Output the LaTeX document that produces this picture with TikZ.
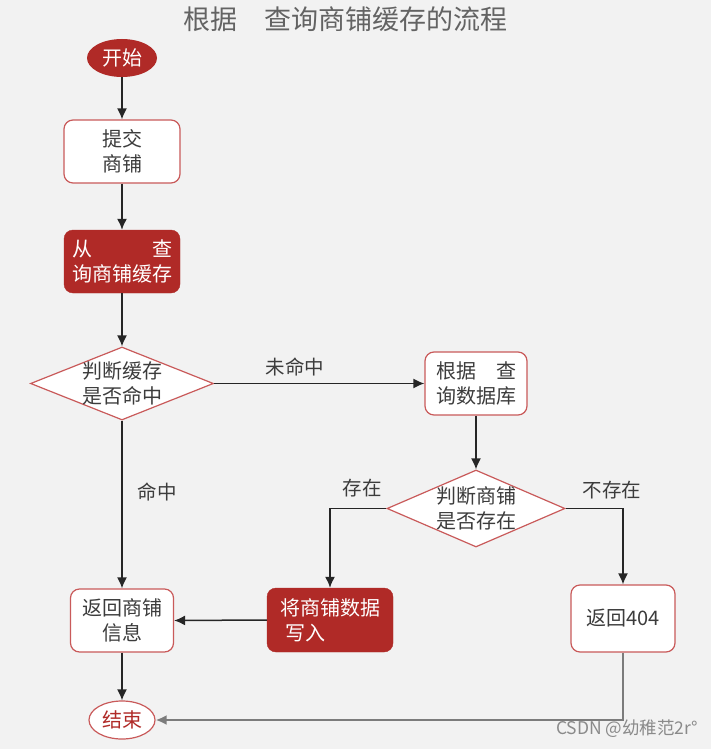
\documentclass[tikz,border=0pt]{standalone}
\usepackage{fontspec}
\setmainfont{Noto Sans CJK SC}
\usetikzlibrary{shapes.geometric,arrows.meta}

\definecolor{bg}{HTML}{F2F2F2}
\definecolor{darkred}{HTML}{B02A27}
\definecolor{boxline}{HTML}{C95A5A}
\definecolor{txt}{HTML}{3C3C3C}
\definecolor{flow}{HTML}{262626}
\definecolor{mark}{HTML}{8A8A8A}

\tikzset{
  boxfont/.style={font=\fontsize{20}{25}\selectfont},
  redbox/.style={rectangle,rounded corners=9pt,fill=darkred,draw=darkred,
    text=white,inner sep=0pt,align=center,boxfont},
  whitebox/.style={rectangle,rounded corners=9pt,fill=white,draw=boxline,
    line width=1.2pt,text=txt,inner sep=0pt,align=center,boxfont},
  decision/.style={diamond,fill=white,draw=boxline,line width=1.2pt,
    text=txt,inner sep=-5pt,align=center,boxfont},
  flowarrow/.style={draw=flow,line width=1.5pt,-{Latex[length=11pt,width=10pt]}},
  lbl/.style={text=txt,font=\fontsize{19.5}{22}\selectfont},
}

\begin{document}
\begin{tikzpicture}[x=1pt,y=-1pt]
    \fill[bg] (0,0) rectangle (711,749);
    \useasboundingbox (0,0) rectangle (711,749);
    % title
    \node[text=txt!80,font=\fontsize{27}{30}\selectfont] (title) at (345,19) {根据\hspace{1em}查询商铺缓存的流程};
    % nodes of the flow
    \node[ellipse,fill=darkred,text=white,minimum width=70pt,minimum height=38pt,inner sep=0pt,boxfont] (start) at (122,58) {开始};
    \node[whitebox,minimum width=116pt,minimum height=63pt] (submit) at (122,151.5) {提交\\商铺};
    \node[redbox,minimum width=116pt,minimum height=63pt] (query) at (122,261.5) {从\hspace{3em}查\\询商铺缓存};
    \node[decision,aspect=2.5,minimum width=183pt,minimum height=73pt] (hit) at (122,383.5) {判断缓存\\是否命中};
    \node[whitebox,minimum width=102pt,minimum height=63pt] (db) at (476,383.5) {根据\hspace{1em}查\\询数据库};
    \node[decision,aspect=2.3,minimum width=178pt,minimum height=77pt] (exist) at (476,508.5) {判断商铺\\是否存在};
    \node[redbox,minimum width=126pt,minimum height=64pt,align=left] (write) at (330,620) {将商铺数据\\\hspace{0.25em}写入};
    \node[whitebox,minimum width=104pt,minimum height=67pt] (notfound) at (623,618.5) {返回404};
    \node[whitebox,minimum width=103pt,minimum height=63pt] (ret) at (122,620.5) {返回商铺\\信息};
    \node[ellipse,fill=white,draw=boxline,line width=1.2pt,text=darkred,minimum width=66pt,minimum height=38pt,inner sep=0pt,boxfont] (end) at (122,720) {结束};
    % connectors
    \draw[flowarrow] (start) -- (submit);
    \draw[flowarrow] (submit) -- (query);
    \draw[flowarrow] (query) -- (hit);
    \draw[flowarrow] (hit.east) -- (db.west);
    \draw[flowarrow] (db) -- (exist);
    \draw[flowarrow] (exist.west) -| (write.north);
    \draw[flowarrow] (exist.east) -| (notfound.north);
    \draw[flowarrow] (hit.south) -- (ret.north);
    \draw[flowarrow] (write.west) -- (ret.east);
    \draw[flowarrow] (ret) -- (end);
    \draw[flowarrow,draw=mark!90!black,line width=2.4pt] (notfound.south) |- (end.east);
    % labels
    \node[lbl] (miss) at (295,367) {未命中};
    \node[lbl] (found) at (157,492) {命中};
    \node[lbl] (yes) at (362,488) {存在};
    \node[lbl] (no) at (612,490) {不存在};
    \node[text=mark,font=\fontsize{17.5}{19}\selectfont] (wm) at (627,729) {CSDN @幼稚范2r°};
\end{tikzpicture}
\end{document}
